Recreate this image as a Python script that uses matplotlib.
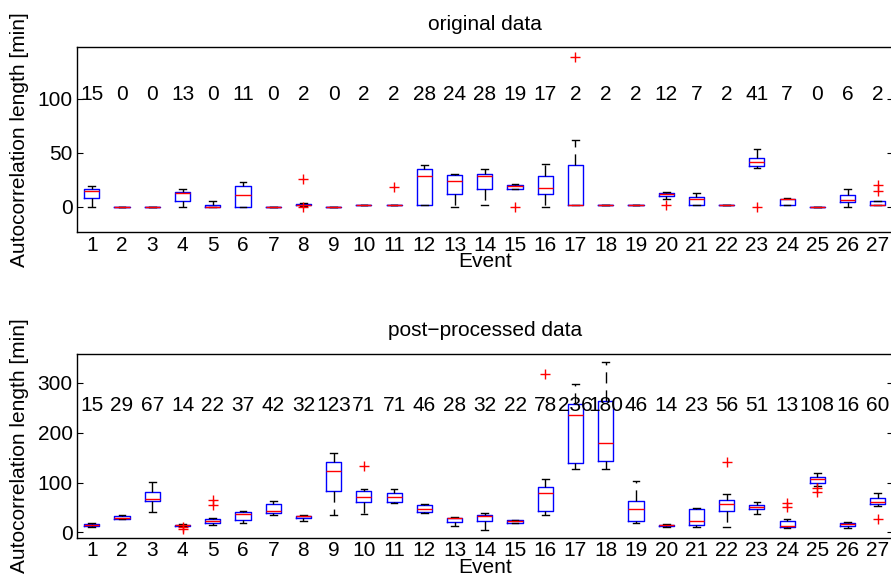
import matplotlib
matplotlib.use("Agg")
import matplotlib.pyplot as plt

plt.rcParams['font.family'] = ['Liberation Sans', 'DejaVu Sans']
plt.rcParams['lines.scale_dashes'] = False

events = list(range(1, 28))

# ---- original data: box statistics per event ----
orig_lo  = [0, 0, 0, 0, 0, 0, 0, 1, 0, 2, 2, 2, 0, 2, 16, 0, 2, 2, 2, 7.5, 2, 2, 36, 2, 0, 0, 2]
orig_q1  = [8, 0, 0, 5, 0, 0, 0, 1.2, 0, 2, 2, 2, 12, 16, 16, 12, 2, 2, 2, 10, 2, 2, 37.5, 2, 0, 4, 2]
orig_med = [15, 0, 0, 13, 0, 11, 0, 2, 0, 2, 2, 28, 24, 28, 19, 17, 2, 2, 2, 12, 7, 2, 41, 7, 0, 6, 2]
orig_q3  = [16, 0, 0, 14, 2, 19, 0, 2.8, 0, 2, 2, 35, 29, 30, 20, 28, 39, 2, 2, 12.5, 9, 2, 45, 7.3, 0, 11, 5]
orig_hi  = [19, 0, 0, 16, 5, 23, 0, 3, 0, 2, 2, 39, 30, 35, 21, 40, 62, 2, 2, 14, 13, 2, 53, 8.5, 0, 16, 5.5]
orig_out = [[], [], [], [], [], [], [], [26, 0], [], [], [18], [], [], [], [0], [], [139],
            [], [], [1.5], [], [], [0], [], [], [], [20.5, 15]]

# ---- post-processed data: box statistics per event ----
post_lo  = [11, 26, 40, 12, 14, 19, 35, 23, 35, 37, 59, 39, 13, 5, 18, 34, 128, 127, 18, 11, 10, 11, 37, 8, 93, 9, 52]
post_q1  = [13, 27, 63, 13, 19, 24, 38, 28, 82, 60, 60, 41, 20, 22, 19, 42, 140, 143, 23, 12.5, 14, 43, 46, 10, 100, 13, 57]
post_med = [15, 29, 67, 14, 22, 37, 42, 32, 123, 71, 71, 46, 28, 32, 22, 78, 236, 180, 46, 14, 23, 56, 51, 13, 108, 16, 60]
post_q3  = [17, 32, 80, 15, 27, 40, 56, 33.5, 141, 82, 78, 54, 29.5, 35, 24, 90, 257, 264, 63.5, 15, 46, 65.5, 54, 22, 110.5, 19, 69]
post_hi  = [19, 35, 102, 16, 28, 43, 62, 35, 160, 86, 86, 56, 31, 38, 25, 108, 298, 341, 103, 16, 49, 77.5, 60, 27, 119, 21, 78]
post_out = [[], [], [], [10, 6], [64, 55], [], [], [], [], [133], [], [], [], [], [], [318], [],
            [], [], [], [], [142], [], [59, 51], [89, 81], [], [26]]

W, H = 891, 576
fig = plt.figure(figsize=(W / 100, H / 100), dpi=100)

FS = 15


def make_stats(lo, q1, med, q3, hi, out):
    return [dict(whislo=a, q1=b, med=c, q3=d, whishi=e, fliers=f)
            for a, b, c, d, e, f in zip(lo, q1, med, q3, hi, out)]


def panel(rect_px, stats, meds, ylim, yticks, label_y, title):
    x0, y0, x1, y1 = rect_px
    ax = fig.add_axes([x0 / W, 1 - y1 / H, (x1 - x0) / W, (y1 - y0) / H])
    ax.bxp(stats, positions=events, widths=0.5, capwidths=0.22,
           showfliers=True, manage_ticks=False,
           boxprops=dict(color='blue', lw=1.0),
           medianprops=dict(color='red', lw=1.0),
           whiskerprops=dict(color='black', lw=1.0, linestyle=(0, (8, 5))),
           capprops=dict(color='black', lw=1.0),
           flierprops=dict(marker='+', markeredgecolor='red', markersize=7,
                           markeredgewidth=1.0, linestyle='none'))
    ax.set_xlim(0.5, 27.5)
    ax.set_ylim(*ylim)
    ax.set_yticks(yticks)
    ax.set_xticks(events)
    ax.set_xticklabels([str(e) for e in events])
    ax.tick_params(axis='y', direction='in', length=4.5, width=0.8,
                   right=True, labelsize=FS, pad=3)
    ax.tick_params(axis='x', length=0, labelsize=FS, pad=2.5)
    for s in ax.spines.values():
        s.set_linewidth(1.0)
    for e, m in zip(events, meds):
        ax.text(e, label_y, str(m), ha='center', va='center', fontsize=FS)
    h = y1 - y0
    ax.text(0.5, 1 + 23.3 / h, title, transform=ax.transAxes,
            ha='center', va='center', fontsize=FS)
    ax.text(0.5, -29.5 / h, 'Event', transform=ax.transAxes,
            ha='center', va='center', fontsize=FS)
    fig.text(20 / W, 1 - (y0 + y1) / 2 / H, 'Autocorrelation length [min]',
             rotation=90, ha='center', va='center', fontsize=FS)
    return ax


panel((76.7, 47.3, 892.9, 232.3),
      make_stats(orig_lo, orig_q1, orig_med, orig_q3, orig_hi, orig_out),
      orig_med, (-23.7, 147.6), [0, 50, 100], 104, 'original data')

panel((76.7, 354.0, 892.9, 537.7),
      make_stats(post_lo, post_q1, post_med, post_q3, post_hi, post_out),
      post_med, (-10.8, 358), [0, 100, 200, 300], 255, 'post\u2212processed data')

fig.savefig('out.png', dpi=100)
